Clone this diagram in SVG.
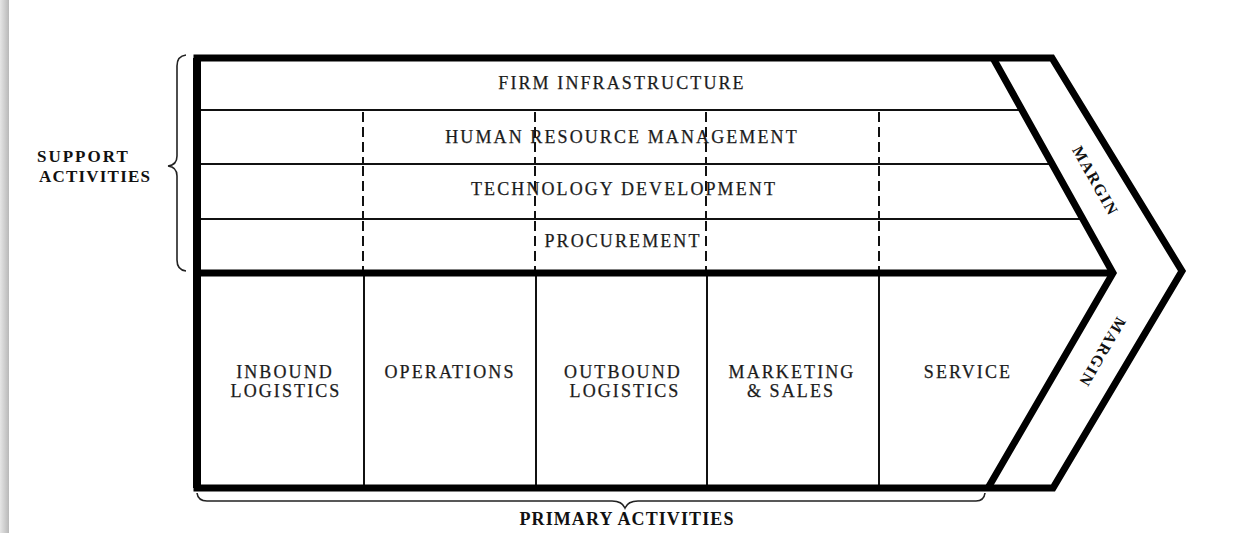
<svg xmlns="http://www.w3.org/2000/svg" width="1253" height="533" viewBox="0 0 1253 533">
<style>
  .lbl { font-family: "Liberation Serif", "Times New Roman", serif; font-size: 18px; letter-spacing: 2.1px; fill: #1c1c1c; stroke: #1c1c1c; stroke-width: 0.25; text-anchor: middle; }
  .bold { font-family: "Liberation Serif", "Times New Roman", serif; font-weight: bold; font-size: 17px; fill: #111; }
  .thick { stroke: #000; stroke-width: 7; fill: none; stroke-linejoin: miter; }
  .thin { stroke: #111; stroke-width: 2; fill: none; }
  .dash { stroke: #111; stroke-width: 2; fill: none; stroke-dasharray: 10 5; }
  .brace { stroke: #222; stroke-width: 1.6; fill: none; }
</style>
<defs>
  <linearGradient id="shadow" x1="0" y1="0" x2="1" y2="0">
    <stop offset="0" stop-color="#e6e6e6"/>
    <stop offset="1" stop-color="#b8b8b8"/>
  </linearGradient>
</defs>
<rect x="0" y="0" width="1253" height="533" fill="#ffffff"/>
<rect x="0" y="0" width="9" height="533" fill="url(#shadow)"/>

<g id="connectors">
  <!-- row lines in support area -->
  <line class="thin" x1="197" y1="110" x2="1022" y2="110"/>
  <line class="thin" x1="197" y1="164" x2="1052" y2="164"/>
  <line class="thin" x1="197" y1="219" x2="1083" y2="219"/>
  <!-- dashed dividers (support) -->
  <g>
    <line class="dash" x1="363" y1="112" x2="363" y2="163"/>
    <line class="dash" x1="363" y1="166" x2="363" y2="218"/>
    <line class="dash" x1="363" y1="221" x2="363" y2="272"/>
    <line class="dash" x1="535" y1="112" x2="535" y2="163"/>
    <line class="dash" x1="535" y1="166" x2="535" y2="218"/>
    <line class="dash" x1="535" y1="221" x2="535" y2="272"/>
    <line class="dash" x1="706" y1="112" x2="706" y2="163"/>
    <line class="dash" x1="706" y1="166" x2="706" y2="218"/>
    <line class="dash" x1="706" y1="221" x2="706" y2="272"/>
    <line class="dash" x1="879" y1="112" x2="879" y2="163"/>
    <line class="dash" x1="879" y1="166" x2="879" y2="218"/>
    <line class="dash" x1="879" y1="221" x2="879" y2="272"/>
  </g>
  <!-- primary dividers -->
  <line class="thin" x1="364" y1="273" x2="364" y2="488"/>
  <line class="thin" x1="536" y1="273" x2="536" y2="488"/>
  <line class="thin" x1="707" y1="273" x2="707" y2="488"/>
  <line class="thin" x1="879" y1="273" x2="879" y2="488"/>
  <!-- frame -->
  <path class="thick" d="M 197 58 L 1052 58 L 1182 271 L 1053 488 L 197 488 Z"/>
  <line class="thick" x1="197" y1="58" x2="197" y2="488" style="stroke-width:8"/>
  <line class="thick" x1="197" y1="273" x2="1113" y2="273"/>
  <path class="thick" d="M 993 58 L 1113 273 L 988 488"/>
  <!-- braces -->
  <path class="brace" d="M 186 55 Q 177 56 177 66 L 177 156 Q 177 165 168 166 Q 177 167 177 176 L 177 260 Q 177 270 186 271"/>
  <path class="brace" d="M 197 493 Q 198 501 207 501 L 612 501 Q 622 501 625 508 Q 628 501 638 501 L 976 501 Q 984 501 985 493"/>
</g>

<g id="support-label">
  <text class="bold" x="37" y="162" style="letter-spacing:2px">SUPPORT</text>
  <text class="bold" x="39" y="182" style="letter-spacing:1.2px">ACTIVITIES</text>
</g>
<g id="primary-label">
  <text class="bold" x="627" y="525" text-anchor="middle" style="font-size:18px;letter-spacing:1.1px">PRIMARY ACTIVITIES</text>
</g>

<g id="firm-infrastructure"><text class="lbl" x="622" y="89">FIRM INFRASTRUCTURE</text></g>
<g id="hrm"><text class="lbl" x="622" y="143">HUMAN RESOURCE MANAGEMENT</text></g>
<g id="tech-dev"><text class="lbl" x="624" y="195">TECHNOLOGY DEVELOPMENT</text></g>
<g id="procurement"><text class="lbl" x="623" y="247">PROCUREMENT</text></g>

<g id="inbound-logistics">
  <text class="lbl" x="285" y="378">INBOUND</text>
  <text class="lbl" x="286" y="397">LOGISTICS</text>
</g>
<g id="operations"><text class="lbl" x="450" y="378">OPERATIONS</text></g>
<g id="outbound-logistics">
  <text class="lbl" x="623" y="378">OUTBOUND</text>
  <text class="lbl" x="625" y="397">LOGISTICS</text>
</g>
<g id="marketing-sales">
  <text class="lbl" x="792" y="378">MARKETING</text>
  <text class="lbl" x="791" y="397">&amp; SALES</text>
</g>
<g id="service"><text class="lbl" x="968" y="378">SERVICE</text></g>

<g id="margin-upper">
  <text class="bold" x="0" y="5" text-anchor="middle" transform="translate(1095,181) rotate(60.8)" style="font-size:16px;letter-spacing:1.5px">MARGIN</text>
</g>
<g id="margin-lower">
  <text class="bold" x="0" y="5" text-anchor="middle" transform="translate(1102,352) rotate(120.2)" style="font-size:16px;letter-spacing:1.5px">MARGIN</text>
</g>
</svg>
